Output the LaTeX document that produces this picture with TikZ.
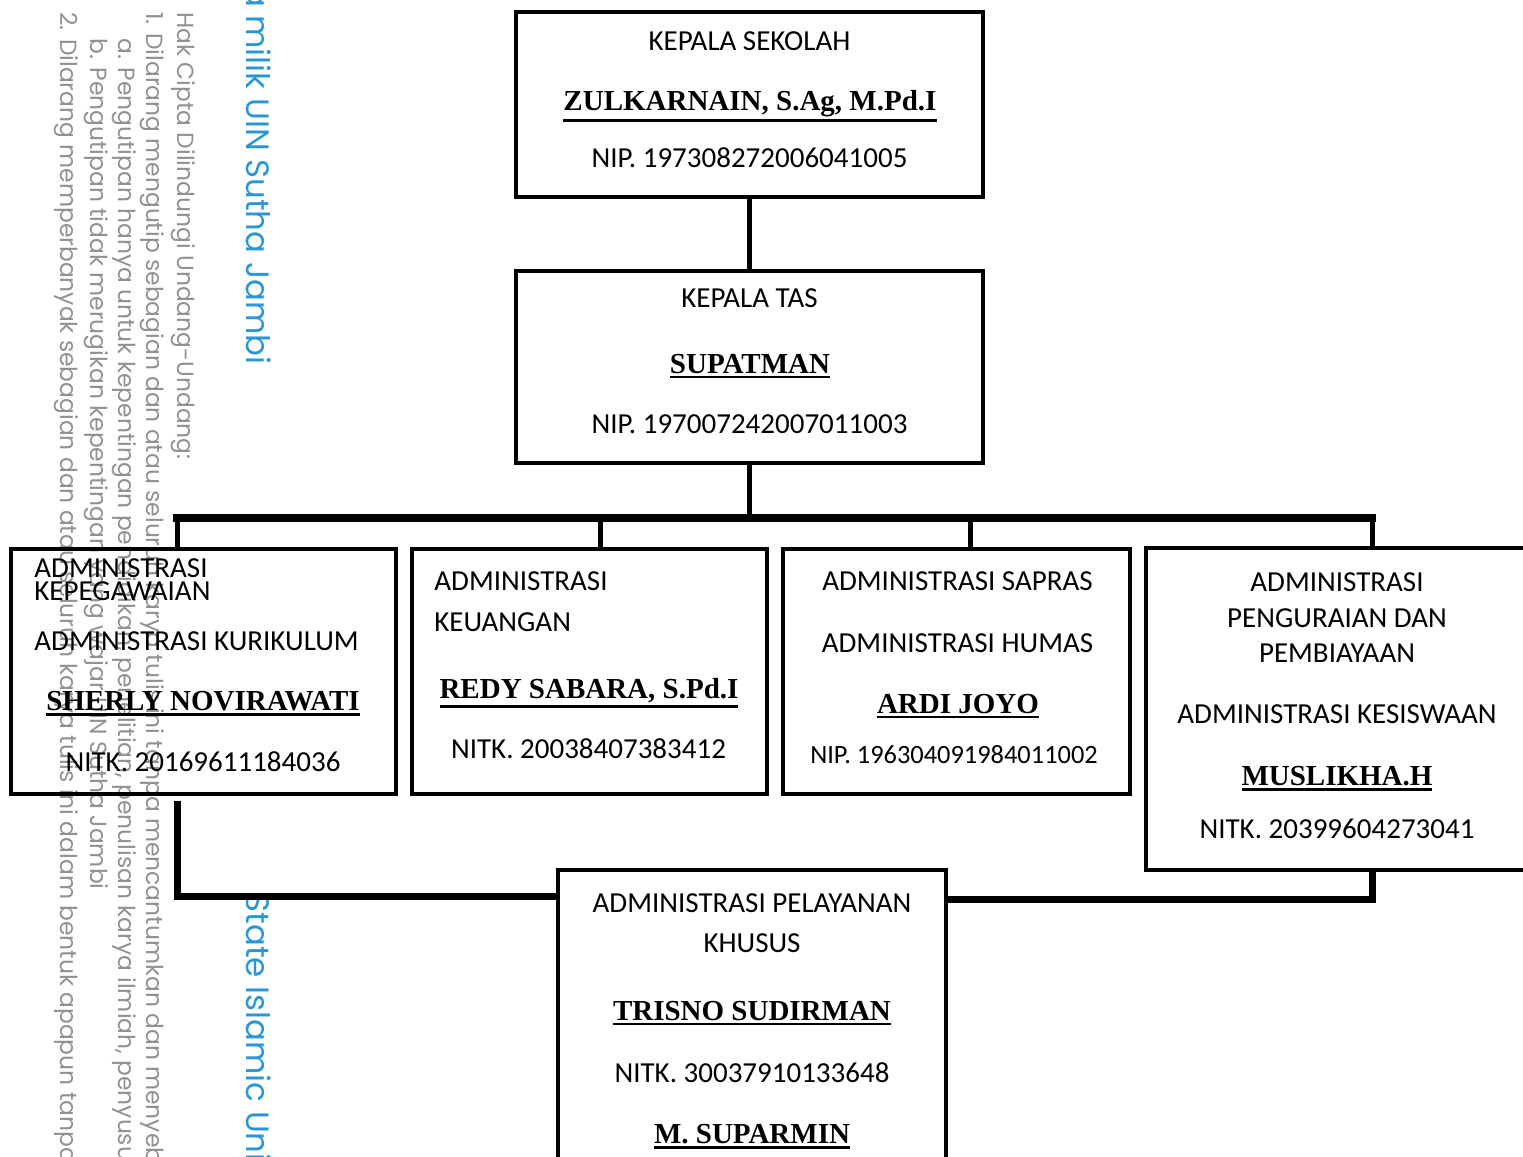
\documentclass[tikz,border=0pt]{standalone}
\usepackage{fontspec}
\setmainfont{Carlito}
\newfontfamily\namefont{Liberation Serif}
\newfontfamily\wmfont{Poppins}
\definecolor{wmgray}{RGB}{145,145,145}
\definecolor{wmblue}{RGB}{40,150,215}
\newcommand\uname[1]{\vtop{\hbox{\namefont\bfseries #1}\kern1.5pt\hrule height 1.1pt}}
\begin{document}
\begin{tikzpicture}[x=0.5pt,y=-0.5pt,
  orgbox/.style={draw, line width=2pt, inner sep=0pt, outer sep=0pt},
  conn/.style={line width=2.5pt},
  busline/.style={line width=4pt, line cap=rect},
  lowline/.style={line width=3.5pt, line join=miter},
  txt/.style={inner sep=0pt, anchor=base, font=\fontsize{14.5}{17}\selectfont},
  ltxt/.style={txt, anchor=base west},
  smalltxt/.style={txt, font=\fontsize{13.2}{16}\selectfont},
  nm/.style={inner sep=0pt, anchor=base, font=\fontsize{14.5}{17}\selectfont},
  wmg/.style={inner sep=0pt, rotate=-90, anchor=west, text=wmgray, font=\wmfont\fontsize{11.7}{14}\selectfont},
  wmb/.style={inner sep=0pt, rotate=-90, text=wmblue, font=\wmfont\fontsize{16.2}{19}\selectfont}]
\useasboundingbox (0,0) rectangle (1523,1157);
\clip (0,0) rectangle (1523,1157);
% watermark
\node[wmb, anchor=east] (wb1) at (255,365) {Hak cipta milik UIN Sutha Jambi};
\node[wmb, anchor=west] (wb2) at (255,893) {State Islamic University of Sulthan Thaha Saifuddin Jambi};
\node[wmg] (wg1) at (183,12) {Hak Cipta Dilindungi Undang-Undang:};
\node[wmg] (wg2) at (152,12) {1. Dilarang mengutip sebagian dan atau seluruh karya tulis ini tanpa mencantumkan dan menyebutkan sumber:};
\node[wmg] (wg3) at (124,38) {a. Pengutipan hanya untuk kepentingan pendidikan, penelitian, penulisan karya ilmiah, penyusunan laporan};
\node[wmg] (wg4) at (96,38) {b. Pengutipan tidak merugikan kepentingan yang wajar UIN Sutha Jambi};
\node[wmg] (wg5) at (66,12) {2. Dilarang memperbanyak sebagian dan atau seluruh karya tulis ini dalam bentuk apapun tanpa izin UIN Sutha Jambi};
% boxes
\node[orgbox, minimum width=233.5pt, minimum height=92.5pt] (ks) at (749.5,104.5) {};
\node[orgbox, minimum width=233.5pt, minimum height=96pt] (tas) at (749.5,367) {};
\node[orgbox, minimum width=192.5pt, minimum height=122.5pt] (bA) at (203.5,671) {};
\node[orgbox, minimum width=177.5pt, minimum height=122.5pt] (bB) at (589.5,671) {};
\node[orgbox, minimum width=173.5pt, minimum height=122.5pt] (bC) at (956.5,671) {};
\node[orgbox, minimum width=199.5pt, minimum height=161pt] (bD) at (1345.5,709) {};
\node[orgbox, minimum width=194pt, minimum height=155pt] (bE) at (752,1025) {};
% connectors
\coordinate (busL) at (177,518);
\coordinate (busR) at (1372,518);
\coordinate (dB) at (600,518);
\coordinate (dC) at (970,518);
\draw[conn] (ks.south) -- (tas.north);
\draw[conn] (tas.south) -- (tas.south |- busL);
\draw[busline] (busL) -- (busR);
\draw[conn] (busL) -- (busL |- bA.north);
\draw[conn] (dB) -- (dB |- bB.north);
\draw[conn] (dC) -- (dC |- bC.north);
\draw[conn] (busR) -- (busR |- bD.north);
\coordinate (lA) at (177,801);
\coordinate (lAc) at (177,896);
\coordinate (lDc) at (1372,899);
\draw[lowline] (lA) -- (lAc) -- (lAc -| bE.west);
\draw[lowline] (busR |- bD.south) -- (lDc) -- (lDc -| bE.east);
% box 1
\node[txt] (k1) at (749.5,50) {KEPALA SEKOLAH};
\node[nm] (k2) at (750,110) {\uname{ZULKARNAIN, S.Ag, M.Pd.I}};
\node[txt] (k3) at (749.5,167) {NIP. 197308272006041005};
% box 2
\node[txt] (t1) at (749.5,307) {KEPALA TAS};
\node[nm] (t2) at (750,373) {\uname{SUPATMAN}};
\node[txt] (t3) at (749.5,433) {NIP. 197007242007011003};
% box A
\node[ltxt] (a1) at (34,577) {ADMINISTRASI};
\node[ltxt] (a2) at (34,600) {KEPEGAWAIAN};
\node[ltxt] (a3) at (34,650) {ADMINISTRASI KURIKULUM};
\node[nm] (a4) at (203,710) {\uname{SHERLY NOVIRAWATI}};
\node[txt] (a5) at (203,771) {NITK. 20169611184036};
% box B
\node[ltxt] (b1) at (434,590) {ADMINISTRASI};
\node[ltxt] (b2) at (434,631) {KEUANGAN};
\node[nm] (b3) at (589,698) {\uname{REDY SABARA, S.Pd.I}};
\node[txt] (b4) at (588.5,758) {NITK. 20038407383412};
% box C
\node[txt] (c1) at (957.5,590) {ADMINISTRASI SAPRAS};
\node[txt] (c2) at (957.5,652) {ADMINISTRASI HUMAS};
\node[nm] (c3) at (958,713) {\uname{ARDI JOYO}};
\node[smalltxt] (c4) at (954,763) {NIP. 196304091984011002};
% box D
\node[txt] (d1) at (1337,591) {ADMINISTRASI};
\node[txt] (d2) at (1337,627) {PENGURAIAN DAN};
\node[txt] (d3) at (1337,662) {PEMBIAYAAN};
\node[txt] (d4) at (1337,723) {ADMINISTRASI KESISWAAN};
\node[nm] (d5) at (1337,785) {\uname{MUSLIKHA.H}};
\node[txt] (d6) at (1337,838) {NITK. 20399604273041};
% box E
\node[txt] (e1) at (752,912) {ADMINISTRASI PELAYANAN};
\node[txt] (e2) at (752,952) {KHUSUS};
\node[nm] (e3) at (752,1020) {\uname{TRISNO SUDIRMAN}};
\node[txt] (e4) at (752,1082) {NITK. 30037910133648};
\node[nm] (e5) at (752,1143) {\uname{M. SUPARMIN}};
\end{tikzpicture}
\end{document}
